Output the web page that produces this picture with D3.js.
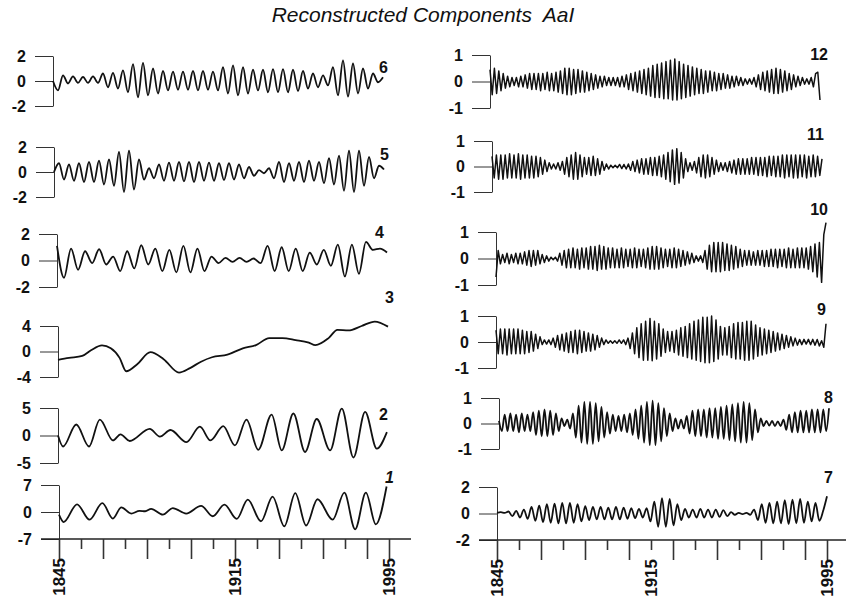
<!DOCTYPE html>
<meta charset="utf-8">
<style>
  body { margin: 0; background: #fff; }
  text { font-family: Arial, "Liberation Sans", sans-serif; fill: #111; }
  .tick line, .domain { stroke: #333; }
</style>
<body>
<div id="chart"></div>
<script src="https://d3js.org/d3.v7.min.js"></script>
<script>

// ---- data (component values, 1845-1995) ----
// components 1-3: turning points / samples with their years
var c1Years = [1845, 1847.1, 1853.2, 1858.9, 1864.7, 1869.5, 1873.3, 1877.8, 1881.6, 1884.2, 1886.9, 1892.2, 1896.7, 1902.8, 1909.6, 1914.9, 1920.2, 1925.8, 1930.8, 1936.8, 1942.1, 1947.4, 1952.4, 1957.3, 1962.5, 1969.4, 1974.7, 1979.6, 1984.5, 1989.0, 1993.9];
var c1Values = [-0.7, -2.6, 2.0, -2.0, 2.3, -1.7, 1.2, -0.4, 0.3, 0.2, 0.8, -0.7, 1.0, -0.4, 1.6, -1.1, 1.9, -1.8, 3.2, -2.4, 4.0, -3.7, 4.9, -3.5, 3.3, -2.0, 5.0, -4.5, 5.0, -3.2, 6.6];

var c2Years = [1845, 1847.3, 1853.3, 1859.1, 1864.0, 1870.0, 1873.4, 1877.6, 1886.7, 1891.3, 1896.1, 1903.4, 1909.5, 1914.3, 1920.1, 1925.4, 1930.7, 1936.0, 1942.1, 1946.7, 1952.0, 1957.3, 1962.6, 1968.7, 1974.0, 1979.3, 1984.6, 1989.9, 1994.5];
var c2Values = [0, -2.0, 2.0, -2.0, 2.9, -0.9, 0.2, -1.0, 1.2, -0.2, 1.0, -1.2, 1.6, -0.9, 1.7, -1.8, 2.9, -2.6, 3.8, -2.7, 4.0, -3.0, 3.0, -2.7, 4.9, -4.0, 4.3, -2.4, 0.6];

var c3Years = [1845, 1850, 1856, 1860, 1865, 1869, 1873, 1876, 1881, 1887, 1893, 1900, 1905, 1910, 1915, 1922, 1929, 1935, 1941, 1947, 1953, 1959, 1962, 1968, 1972, 1977, 1983, 1989, 1995];
var c3Values = [-1.3, -1.0, -0.7, 0.2, 0.95, 0.5, -1.0, -3.1, -2.0, -0.1, -1.2, -3.3, -2.6, -1.6, -0.9, -0.5, 0.5, 1.0, 2.1, 2.1, 1.8, 1.4, 1.0, 2.1, 3.4, 3.3, 4.0, 4.7, 3.9];

// components 4-8: successive turning points, evenly spread over 1845-1995
var c4Values = [1.1, -1.3, 0.9, -0.7, 0.7, -0.2, 0.85, -0.3, 0.3, -0.8, 0.7, -0.6, 1.15, -0.3, 0.9, -0.8, 0.8, -0.9, 1.1, -0.9, 0.9, -0.8, 0.3, -0.2, 0.2, -0.1, 0.2, -0.1, 0.15, -0.2, 1.1, -0.8, 1.0, -0.8, 0.9, -0.8, 0.6, -0.3, 0.8, -0.4, 1.2, -1.2, 1.2, -1.0, 1.4, 0.8, 0.9, 0.6];

var c5Values = [0, 0.7, -0.6, 0.6, -0.7, 0.7, -0.8, 0.8, -0.8, 0.9, -1.0, 1.0, -1.1, 1.6, -1.6, 1.7, -1.4, 1.0, -0.6, 0.3, -0.5, 0.6, -0.7, 0.75, -0.7, 0.8, -0.75, 0.8, -0.8, 0.8, -0.7, 0.75, -0.7, 0.7, -0.65, 0.7, -0.6, 0.6, -0.5, 0.4, -0.3, 0.15, -0.1, 0.3, -0.5, 0.8, -0.8, 0.7, -0.7, 0.8, -0.8, 0.9, -0.7, 0.8, -0.9, 1.1, -1.0, 1.3, -1.5, 1.7, -1.6, 1.7, -1.1, 1.2, -0.5, 0.5, 0.2];

var c6Values = [0, -0.75, 0.45, -0.2, 0.37, -0.15, 0.33, -0.15, 0.37, -0.15, 0.6, -0.5, 0.65, -0.6, 0.85, -0.9, 1.35, -1.3, 1.45, -1.15, 1.0, -1.0, 0.8, -0.75, 0.75, -0.7, 0.75, -0.7, 0.8, -0.75, 0.8, -0.7, 0.75, -0.75, 1.1, -1.0, 1.25, -1.15, 1.1, -1.0, 0.9, -0.75, 0.9, -0.9, 0.95, -0.9, 0.95, -0.9, 0.9, -0.8, 0.8, -0.6, 0.6, -0.5, 0.45, -0.35, 1.1, -1.15, 1.65, -1.25, 1.4, -1.0, 1.0, -0.6, 0.6, -0.1, 0.3];

var c7Values = [0.05, 0.1, 0.05, 0.15, -0.2, 0.2, -0.3, 0.3, -0.4, 0.5,
  -0.55, 0.6, -0.65, 0.7, -0.7, 0.75, -0.75, 0.8, -0.75, 0.8,
  -0.7, 0.7, -0.6, 0.55, -0.5, 0.5, -0.45, 0.5, -0.45, 0.45,
  -0.45, 0.5, -0.45, 0.45, -0.4, 0.4, -0.35, 0.35, -0.3, 0.4,
  -0.6, 0.9, -1.0, 1.15, -1.0, 1.1, -0.9, 0.7, -0.5, 0.35,
  -0.3, 0.3, -0.3, 0.35, -0.3, 0.3, -0.3, 0.3, -0.25, 0.25,
  -0.2, 0.1, -0.1, 0.05, -0.05, 0.05, -0.1, 0.3, -0.5, 0.7,
  -0.7, 0.8, -0.75, 0.9, -0.75, 1.0, -0.8, 1.05, -0.75, 1.1,
  -0.7, 0.9, -0.6, 0.8, -0.55, 0.2, 1.3];

var c8Values = [0.1, -0.3, 0.35, -0.3, 0.4, -0.3, 0.35, -0.35, 0.4, -0.3,
  0.35, -0.3, 0.45, -0.45, 0.5, -0.5, 0.55, -0.5, 0.5, -0.45,
  0.4, -0.3, 0.2, -0.1, 0.15, -0.2, 0.4, -0.55, 0.7, -0.75,
  0.85, -0.8, 0.85, -0.8, 0.8, -0.7, 0.65, -0.55, 0.45, -0.4,
  0.35, -0.3, 0.3, -0.3, 0.35, -0.35, 0.4, -0.45, 0.55, -0.6,
  0.7, -0.75, 0.85, -0.85, 0.9, -0.85, 0.8, -0.7, 0.6, -0.5,
  0.4, -0.3, 0.2, -0.2, 0.15, -0.2, 0.3, -0.4, 0.5, -0.5,
  0.55, -0.5, 0.55, -0.55, 0.6, -0.55, 0.6, -0.6, 0.65, -0.6,
  0.7, -0.65, 0.75, -0.7, 0.8, -0.75, 0.85, -0.75, 0.8, -0.65,
  0.55, -0.35, 0.2, -0.1, 0.1, -0.08, 0.1, -0.1, 0.08, -0.1,
  0.15, -0.25, 0.35, -0.35, 0.45, -0.35, 0.5, -0.35, 0.5, -0.35,
  0.55, -0.35, 0.55, -0.35, 0.55, -0.3, 0.6];

// components 9-12: yearly values 1845..1995
var c9Values = [0.45, -0.45, 0.5, -0.45, 0.5, -0.5, 0.5, -0.45, 0.5, -0.45,
  0.5, -0.45, 0.45, -0.45, 0.4, -0.4, 0.4, -0.35, 0.3, -0.25,
  0.2, -0.1, 0.08, -0.08, 0.08, -0.1, 0.15, -0.2, 0.25, -0.3,
  0.3, -0.35, 0.35, -0.4, 0.4, -0.4, 0.45, -0.45, 0.45, -0.4,
  0.4, -0.35, 0.35, -0.35, 0.3, -0.3, 0.25, -0.2, 0.15, -0.1,
  0.08, -0.05, 0.05, -0.05, 0.05, -0.05, 0.08, -0.05, 0.08, -0.1,
  0.15, -0.25, 0.35, -0.45, 0.55, -0.6, 0.7, -0.7, 0.8, -0.7,
  0.9, -0.72, 0.8, -0.65, 0.7, -0.55, 0.5, -0.4, 0.4, -0.35,
  0.4, -0.4, 0.45, -0.5, 0.55, -0.55, 0.6, -0.6, 0.7, -0.65,
  0.8, -0.7, 0.85, -0.75, 0.95, -0.8, 0.95, -0.8, 1.0, -0.75,
  0.85, -0.65, 0.6, -0.5, 0.55, -0.5, 0.6, -0.6, 0.7, -0.65,
  0.75, -0.65, 0.75, -0.7, 0.8, -0.7, 0.8, -0.65, 0.65, -0.55,
  0.55, -0.5, 0.5, -0.45, 0.45, -0.4, 0.4, -0.35, 0.35, -0.3,
  0.3, -0.25, 0.25, -0.2, 0.2, -0.15, 0.15, -0.12, 0.1, -0.1,
  0.1, -0.08, 0.1, -0.1, 0.1, -0.12, 0.1, -0.15, 0.05, -0.2, 0.7];

var c10Values = [-0.7, 0.3, -0.2, 0.15, -0.15, 0.2, -0.2, 0.15, -0.15, 0.2,
  -0.2, 0.2, -0.2, 0.25, -0.25, 0.3, -0.3, 0.3, -0.25, 0.3,
  -0.2, 0.15, -0.15, 0.1, -0.1, 0.05, -0.05, 0.05, -0.1, 0.2,
  -0.25, 0.3, -0.35, 0.35, -0.35, 0.4, -0.35, 0.35, -0.4, 0.4,
  -0.35, 0.4, -0.4, 0.45, -0.4, 0.45, -0.45, 0.5, -0.4, 0.45,
  -0.4, 0.4, -0.35, 0.4, -0.35, 0.35, -0.35, 0.4, -0.35, 0.35,
  -0.3, 0.35, -0.35, 0.4, -0.35, 0.35, -0.3, 0.35, -0.35, 0.4,
  -0.4, 0.45, -0.4, 0.45, -0.4, 0.4, -0.35, 0.35, -0.3, 0.35,
  -0.35, 0.4, -0.35, 0.35, -0.3, 0.3, -0.25, 0.25, -0.2, 0.2,
  -0.15, 0.1, -0.1, 0.1, -0.15, 0.3, -0.4, 0.5, -0.5, 0.6,
  -0.5, 0.6, -0.5, 0.6, -0.45, 0.55, -0.45, 0.5, -0.4, 0.45,
  -0.35, 0.35, -0.3, 0.3, -0.25, 0.3, -0.25, 0.25, -0.25, 0.3,
  -0.25, 0.3, -0.3, 0.3, -0.3, 0.35, -0.3, 0.35, -0.35, 0.35,
  -0.3, 0.35, -0.35, 0.4, -0.35, 0.35, -0.35, 0.4, -0.35, 0.4,
  -0.35, 0.4, -0.4, 0.45, -0.5, 0.55, -0.7, 0.6, -0.9, 0.9, 1.35];

var c11Values = [0.4, -0.45, 0.45, -0.5, 0.45, -0.5, 0.45, -0.45, 0.5, -0.45,
  0.45, -0.45, 0.5, -0.5, 0.45, -0.45, 0.45, -0.45, 0.4, -0.45,
  0.4, -0.4, 0.35, -0.3, 0.25, -0.2, 0.15, -0.1, 0.1, -0.1,
  0.15, -0.15, 0.2, -0.3, 0.35, -0.4, 0.45, -0.5, 0.55, -0.5,
  0.45, -0.4, 0.35, -0.3, 0.35, -0.35, 0.4, -0.35, 0.3, -0.3,
  0.2, -0.15, 0.1, -0.1, 0.05, -0.05, 0.05, -0.05, 0.08, -0.08,
  0.08, -0.1, 0.1, -0.15, 0.2, -0.2, 0.25, -0.25, 0.3, -0.3,
  0.3, -0.3, 0.35, -0.35, 0.35, -0.35, 0.4, -0.4, 0.45, -0.5,
  0.55, -0.6, 0.65, -0.7, 0.7, -0.65, 0.55, -0.45, 0.3, -0.2,
  0.15, -0.15, 0.2, -0.25, 0.35, -0.4, 0.45, -0.45, 0.45, -0.4,
  0.35, -0.3, 0.25, -0.2, 0.15, -0.15, 0.15, -0.2, 0.2, -0.25,
  0.25, -0.3, 0.3, -0.3, 0.3, -0.3, 0.3, -0.3, 0.35, -0.3,
  0.35, -0.35, 0.35, -0.35, 0.35, -0.4, 0.4, -0.35, 0.4, -0.4,
  0.4, -0.4, 0.45, -0.45, 0.45, -0.4, 0.45, -0.45, 0.45, -0.45,
  0.45, -0.4, 0.45, -0.45, 0.4, -0.4, 0.45, -0.4, 0.4, -0.35, 0.3];

var c12Values = [0.45, -0.5, 0.5, -0.45, 0.4, -0.35, 0.3, -0.25, 0.2, -0.2,
  0.15, -0.15, 0.15, -0.2, 0.2, -0.2, 0.25, -0.25, 0.3, -0.3,
  0.3, -0.3, 0.3, -0.35, 0.3, -0.3, 0.35, -0.35, 0.3, -0.35,
  0.35, -0.4, 0.4, -0.45, 0.5, -0.5, 0.5, -0.5, 0.45, -0.45,
  0.45, -0.4, 0.4, -0.4, 0.35, -0.35, 0.3, -0.3, 0.25, -0.25,
  0.2, -0.2, 0.2, -0.15, 0.15, -0.15, 0.15, -0.15, 0.15, -0.2,
  0.2, -0.2, 0.25, -0.3, 0.3, -0.35, 0.35, -0.4, 0.4, -0.45,
  0.45, -0.5, 0.5, -0.55, 0.6, -0.6, 0.65, -0.6, 0.7, -0.65,
  0.75, -0.65, 0.8, -0.7, 0.85, -0.7, 0.75, -0.65, 0.65, -0.6,
  0.6, -0.55, 0.55, -0.5, 0.5, -0.45, 0.45, -0.45, 0.4, -0.4,
  0.4, -0.35, 0.35, -0.35, 0.3, -0.3, 0.3, -0.25, 0.25, -0.25,
  0.2, -0.2, 0.2, -0.15, 0.15, -0.15, 0.1, -0.1, 0.1, -0.1,
  0.15, -0.2, 0.25, -0.3, 0.35, -0.35, 0.4, -0.4, 0.45, -0.45,
  0.5, -0.45, 0.45, -0.4, 0.4, -0.35, 0.3, -0.3, 0.25, -0.2,
  0.2, -0.15, 0.15, -0.1, 0.1, -0.1, 0.15, -0.2, 0.3, 0.35, -0.7];

// y ranges and tick labels of each panel
var leftComponents = ["6", "5", "4", "3", "2", "1"];
var rightComponents = ["12", "11", "10", "9", "8", "7"];
var leftTicks = [[-2, 0, 2], [-2, 0, 2], [-2, 0, 2], [-4, 0, 4], [-5, 0, 5], [-7, 0, 7]];
var rightTicks = [[-1, 0, 1], [-1, 0, 1], [-1, 0, 1], [-1, 0, 1], [-1, 0, 1], [-2, 0, 2]];
var yearTicks = d3.range(1845, 1996, 10);
var yearLabels = ["1845", "1915", "1995"];

var width = 846,
    height = 607;

var svg = d3.select("#chart").append("svg")
    .attr("width", width)
    .attr("height", height);

svg.append("text")
    .attr("x", 423)
    .attr("y", 22)
    .attr("text-anchor", "middle")
    .style("font-style", "italic")
    .style("font-size", "21px")
    .style("white-space", "pre")
    .text("Reconstructed Components  AaI");

// scan is a little skewed, so each panel keeps its own frame
var layout = {
  left:  { axisX: [53, 54, 57, 58, 58, 59], top: [56, 147, 234, 326, 408, 485], bot: [106, 197, 287, 377, 463, 539],
           lab: [[388, 73], [389, 160], [384, 238], [394, 303], [388, 420], [394, 483]] },
  right: { axisX: [490, 492, 496, 496, 499, 497], top: [55, 141, 232, 316, 398, 487], bot: [108, 192, 285, 368, 449, 540],
           lab: [[828, 60], [824, 140], [828, 215], [826, 315], [833, 403], [833, 483]] }
};

function evenYears(vals) {
  var idx = d3.scaleLinear().domain([0, vals.length - 1]).range([1845, 1995]);
  return vals.map(function(v, i) { return [idx(i), v]; });
}
function pairYears(yrs, vals) {
  return vals.map(function(v, i) { return [yrs[i], v]; });
}

var series = {
  "1": pairYears(c1Years, c1Values), "2": pairYears(c2Years, c2Values), "3": pairYears(c3Years, c3Values),
  "4": evenYears(c4Values), "5": evenYears(c5Values), "6": evenYears(c6Values),
  "7": evenYears(c7Values), "8": evenYears(c8Values),
  "9": evenYears(c9Values), "10": evenYears(c10Values), "11": evenYears(c11Values), "12": evenYears(c12Values)
};

function drawPanel(col, row, name, ticks, isBottom) {
  var L = layout[col];
  var ax = L.axisX[row];
  var x = d3.scaleLinear().domain([1845, 1995]).range([ax, ax + 330]);
  var y = d3.scaleLinear().domain([ticks[0], ticks[2]]).range([L.bot[row], L.top[row]]);
  var g = svg.append("g");

  var yAxis = d3.axisLeft(y)
      .tickValues(ticks)
      .tickSize(18)
      .tickSizeOuter(0)
      .tickPadding(9)
      .tickFormat(function(d) { return String(d); });
  var ya = g.append("g").attr("transform", "translate(" + ax + ",0)").call(yAxis);
  ya.selectAll("text").style("font-size", "16px").style("font-weight", "bold").attr("fill", "#111");
  ya.select(".domain").attr("stroke-width", 1);

  var dense = +name >= 9;
  var line = d3.line()
      .x(function(d) { return x(d[0]); })
      .y(function(d) { return y(d[1]); })
      .curve(dense ? d3.curveLinear : d3.curveMonotoneX);

  g.append("path")
      .datum(series[name])
      .attr("fill", "none")
      .attr("stroke", "#111")
      .attr("stroke-width", dense ? 1.5 : 1.8)
      .attr("stroke-linejoin", "round")
      .attr("d", line);

  g.append("text")
      .attr("x", L.lab[row][0])
      .attr("y", L.lab[row][1])
      .attr("text-anchor", "end")
      .style("font-size", "16px")
      .style("font-weight", "bold")
      .style("font-style", name === "1" ? "italic" : "normal")
      .text(name);

  if (isBottom) {
    var by = L.bot[row];
    g.append("line")
        .attr("x1", ax - 18).attr("x2", x(2005))
        .attr("y1", by).attr("y2", by)
        .attr("stroke", "#222").attr("stroke-width", 1.5);
    var xAxis = d3.axisBottom(x).tickValues(yearTicks).tickSize(20).tickFormat("");
    var xa = g.append("g").attr("transform", "translate(0," + by + ")").call(xAxis);
    xa.select(".domain").remove();
    xa.selectAll(".tick line")
        .attr("stroke-width", 1.6)
        .attr("y2", function(d, i) { return (i % 2 === 0 || d === 1995) ? 20 : 10; });
    // left column scan puts its middle label one tick further right
    var labelYears = col === "left" ? [1845, 1925, 1995] : [1845, 1915, 1995];
    g.selectAll(".yl")
      .data(labelYears)
      .enter().append("text")
        .attr("transform", function(d) { return "translate(" + (x(d) + 6) + "," + (by + 19) + ") rotate(-90)"; })
        .attr("text-anchor", "end")
        .style("font-size", "17px")
        .style("font-weight", "bold")
        .text(function(d, i) { return yearLabels[i]; });
  }
}

leftComponents.forEach(function(n, r) { drawPanel("left", r, n, leftTicks[r], r === 5); });
rightComponents.forEach(function(n, r) { drawPanel("right", r, n, rightTicks[r], r === 5); });

</script>
</body>
